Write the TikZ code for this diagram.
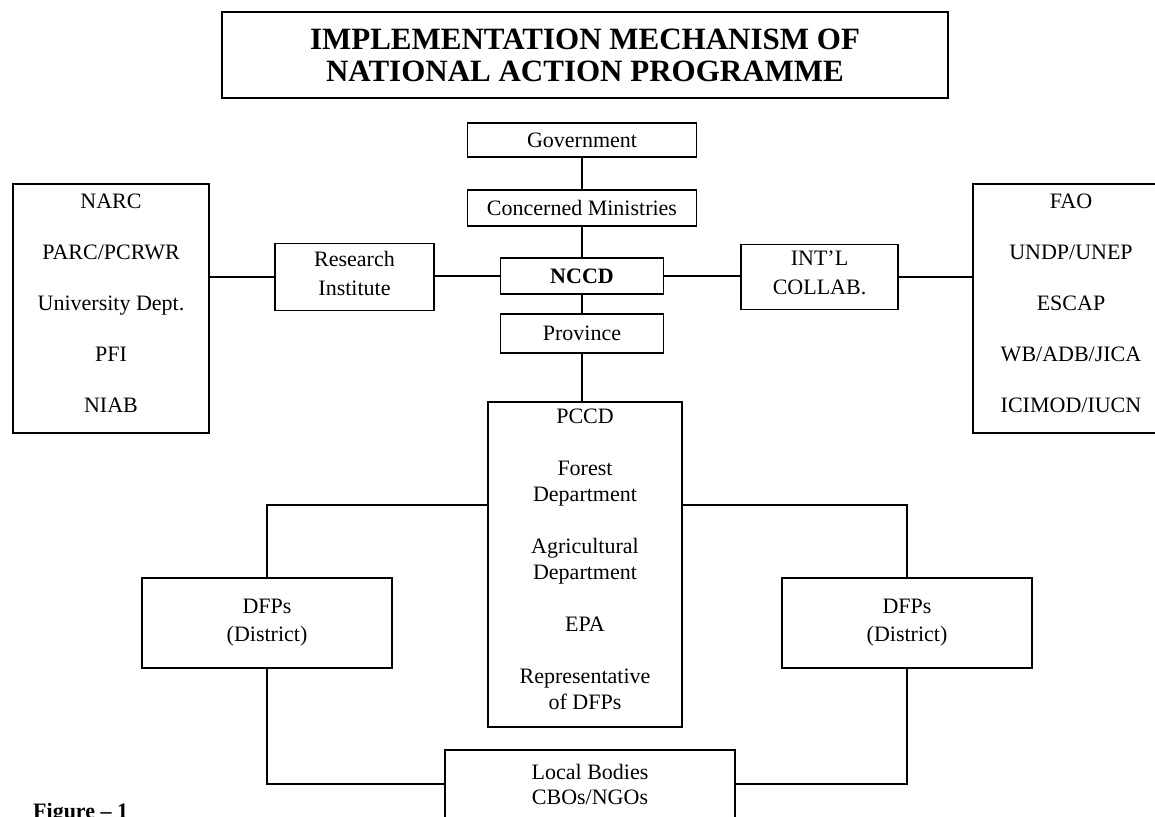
\documentclass[tikz,border=0pt]{standalone}
\usepackage{fontspec}
\setmainfont{Liberation Serif}
\begin{document}
\begin{tikzpicture}[x=1pt,y=-1pt,
  box/.style={draw, line width=1.8pt, inner sep=0pt, align=center, font=\fontsize{22}{28}\selectfont},
  lbl/.style={inner sep=0pt, align=center, font=\fontsize{22}{26}\selectfont},
  conn/.style={line width=1.8pt}]
\clip (0,0) rectangle (1155,816);
\fill[white] (0,0) rectangle (1155,816);
\node[box, line width=2.8pt, minimum width=726pt, minimum height=86pt, font=\fontsize{31}{32}\selectfont\bfseries] (title) at (585,55) {IMPLEMENTATION MECHANISM OF\\NATIONAL ACTION PROGRAMME};
\node[box, minimum width=229pt, minimum height=34pt] (gov) at (582,140) {Government};
\node[box, minimum width=229pt, minimum height=36pt] (min) at (582,208) {Concerned Ministries};
\node[box, minimum width=163pt, minimum height=36pt, font=\fontsize{22}{28}\selectfont\bfseries] (nccd) at (582,276) {NCCD};
\node[box, minimum width=163pt, minimum height=39pt] (prov) at (582,333.5) {Province};
\node[box, minimum width=159pt, minimum height=67pt] (res) at (354.5,277) {};
\node[lbl, font=\fontsize{22}{29}\selectfont] (rest) at (354.5,273) {Research\\Institute};
\node[box, minimum width=157pt, minimum height=65pt] (intl) at (819.5,277) {};
\node[lbl, font=\fontsize{22}{29}\selectfont] (intlt) at (819.5,273) {INT'L\\COLLAB.};
\node[box, minimum width=196pt, minimum height=249pt] (narc) at (111,308.5) {};
\node[lbl] (narct) at (111,303) {NARC\\[25pt]PARC/PCRWR\\[25pt]University Dept.\\[25pt]PFI\\[25pt]NIAB};
\node[box, minimum width=196pt, minimum height=249pt] (fao) at (1071,308.5) {};
\node[lbl] (faot) at (1071,303) {FAO\\[25pt]UNDP/UNEP\\[25pt]ESCAP\\[25pt]WB/ADB/JICA\\[25pt]ICIMOD/IUCN};
\node[box, minimum width=194pt, minimum height=325pt] (pccd) at (585,564.5) {};
\node[lbl] (pccdt) at (585,559) {PCCD\\[26pt]Forest\\Department\\[26pt]Agricultural\\Department\\[26pt]EPA\\[26pt]Representative\\of DFPs};
\node[box, minimum width=250pt, minimum height=90pt] (dfl) at (267,623) {DFPs\\(District)};
\node[box, minimum width=250pt, minimum height=90pt] (dfr) at (907,623) {DFPs\\(District)};
\node[box, minimum width=290pt, minimum height=68pt, font=\fontsize{22}{25}\selectfont] (loc) at (590,784) {Local Bodies\\CBOs/NGOs};
\node[anchor=base west, inner sep=0pt, font=\fontsize{22}{26}\selectfont\bfseries] (fig) at (33,818) {Figure -- 1};
\draw[conn] (gov) -- (min);
\draw[conn] (min) -- (nccd);
\draw[conn] (nccd) -- (prov);
\draw[conn] (prov.south) -- (prov.south |- pccd.north);
\draw[conn] (nccd.west) -- (nccd.west -| res.east);
\draw[conn] (nccd.east) -- (nccd.east -| intl.west);
\draw[conn] (res.west) -- (res.west -| narc.east);
\draw[conn] (intl.east) -- (intl.east -| fao.west);
\draw[conn] (pccd.west |- 0,505) -| (dfl.north);
\draw[conn] (pccd.east |- 0,505) -| (dfr.north);
\draw[conn] (dfl.south) |- (loc.west);
\draw[conn] (dfr.south) |- (loc.east);
\end{tikzpicture}
\end{document}
